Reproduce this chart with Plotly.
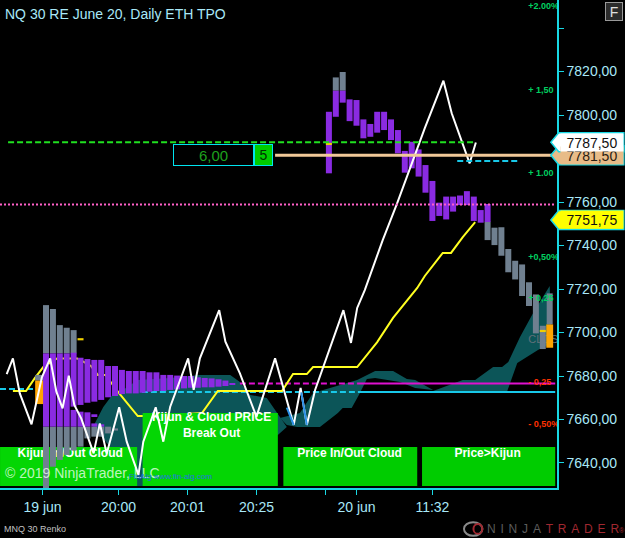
import plotly.graph_objects as go

# axis setup
x_range = [-6.67, 74.06]
y_range = [7628.5, 7852.9]
y_ticks = [7640, 7660, 7680, 7700, 7720, 7740, 7760, 7780, 7800, 7820, 7840]
y_labels = ["7640,00", "7660,00", "7680,00", "7700,00", "7720,00", "7740,00", "7760,00", "", "7800,00", "7820,00", ""]
x_ticks = [-0.5, 10.5, 20.5, 30.5, 40.5, 45, 56]
x_labels = ["19 jun", "20:00", "20:01", "20:25", "", "20 jun", "11:32"]

# left profile
tpo_gray_top_x = [0, 1, 2, 3, 4]
tpo_gray_top_hi = [7712.6, 7710.8, 7703.4, 7702.2, 7701.1]
tpo_gray_top_lo = [7690.4, 7690.4, 7690.4, 7690.4, 7690.4]
tpo_purple_x = list(range(28))
tpo_purple_hi = [7690.4, 7690.4, 7690.4, 7690.4, 7690.7, 7688.4, 7687.8, 7687.4, 7687.4, 7684.6, 7684.6, 7682.8, 7682.3, 7682.3,
                 7682.3, 7681.7, 7681.7, 7680.5, 7680.5, 7680.2, 7680.0, 7680.0, 7679.4, 7679.1, 7678.9, 7678.5, 7677.9, 7676.5]
tpo_purple_lo = [7656.7, 7656.7, 7656.7, 7656.7, 7665.9, 7666.7, 7667.7, 7668.2, 7669.0, 7670.2, 7670.8, 7671.7, 7672.0, 7672.0,
                 7672.3, 7672.8, 7673.1, 7673.1, 7673.6, 7673.9, 7674.3, 7674.6, 7674.6, 7674.8, 7674.8, 7675.1, 7675.4, 7675.9]
tpo_low_x = [4, 5, 6, 7, 7, 8]
tpo_low_hi = [7664.4, 7663.6, 7663.3, 7662.4, 7658.2, 7657.8]
tpo_low_lo = [7656.7, 7656.7, 7656.7, 7661.6, 7656.7, 7656.7]
tpo_gray_low_x = [0, 1, 2, 3, 4, 5, 6, 7, 8, 9, 10]
tpo_gray_low_hi = [7656.7, 7656.7, 7656.7, 7656.7, 7656.7, 7656.7, 7656.7, 7656.7, 7656.7, 7656.7, 7655.9]
tpo_gray_low_lo = [7628.5, 7638.3, 7641.4, 7643.7, 7645.7, 7647.5, 7651.3, 7652.1, 7652.1, 7653.6, 7654.9]

# renko bars
purple_x = list(range(41, 65))
purple_hi = [7801.5, 7811.2, 7811.2, 7807.2, 7806.9, 7798.0, 7795.9, 7801.5, 7801.5, 7798.0, 7793.1, 7783.5,
             7787.7, 7784.2, 7777.0, 7769.7, 7759.7, 7762.5, 7762.5, 7763.0, 7765.0, 7762.5, 7756.3, 7759.1]
purple_lo = [7773.2, 7799.2, 7805.7, 7797.2, 7795.1, 7789.3, 7790.0, 7791.9, 7793.1, 7788.5, 7782.4, 7773.5,
             7775.5, 7771.7, 7764.3, 7751.3, 7753.6, 7752.0, 7755.6, 7758.6, 7758.6, 7751.3, 7750.5, 7750.8]
gray_x = [42, 43, 64, 65, 66, 67, 68, 69, 70, 71, 72, 73]
gray_hi = [7817.3, 7819.8, 7751.0, 7748.2, 7748.4, 7738.4, 7733.0, 7731.3, 7723.1, 7717.5, 7703.1, 7718.0]
gray_lo = [7811.2, 7811.2, 7742.5, 7740.2, 7735.3, 7727.7, 7724.4, 7716.8, 7712.2, 7699.6, 7692.4, 7703.7]
open_x = [-1]
open_gray_hi = [7680.5]
open_gray_lo = [7677.9]
orange_x = [-1, 73]
orange_hi = [7677.9, 7703.7]
orange_lo = [7667.1, 7693.0]
tick_x = [5, 41, 72]
tick_hi = [7697.4, 7787.2, 7701.2]
tick_lo = [7696.4, 7786.2, 7700.2]

# ichimoku cloud outlines
cloud_a_x = [6.8, 8.3, 9.6, 10.7, 13.3, 18, 22.3, 26.7, 28.1, 29.6, 32, 34.3, 34.9, 33.6, 14.3, 13, 9.3]
cloud_a_y = [7656.6, 7665.7, 7671.3, 7672.6, 7678.2, 7679.1, 7680.5, 7680.5, 7677.2, 7671.3, 7669.9, 7659.8, 7656.6, 7652.9, 7629.4, 7629.4, 7647.4]
cloud_b_x = [33.9, 36.8, 38.7, 41.6, 45.1, 47.7, 50.3, 52.3, 53.5, 56.1, 53.5, 51.3, 47.7, 46.5, 45.5, 44.3, 43, 42.3, 39.7, 36.4, 34.9]
cloud_b_y = [7660.7, 7663, 7672.2, 7674.9, 7678.2, 7682.3, 7682.3, 7678.6, 7678.2, 7673.6, 7674.5, 7677.2, 7679.1, 7678.6, 7672.2, 7665.3, 7665.3, 7663, 7656.6, 7656.6, 7657.5]
cloud_c_x = [56.1, 60.4, 62.2, 64.8, 66.1, 67, 68.7, 70.6, 73, 73.3, 71.3, 68.3, 66.8]
cloud_c_y = [7673.1, 7678.2, 7678.2, 7684.1, 7684.1, 7686.4, 7697.9, 7709, 7721.4, 7695.2, 7692, 7686, 7672.6]

# lines
kijun_x = [-4.8, -2.9, -1.6, -0.4, 1.6, 4.5, 5.4, 6.5, 7.5, 8.6, 10.7, 13.3, 16.1, 22.6, 24.9, 34.2, 35.8, 37.8, 38.7, 45.1,
           48, 50.3, 53.8, 54.9, 57.5, 58.7, 60.4, 62.2]
kijun_y = [7673.1, 7673.1, 7679.1, 7684.1, 7688.1, 7688.1, 7686.6, 7684.6, 7680.5, 7680.5, 7671.7, 7661.6, 7661.6, 7663, 7673.1,
           7673.1, 7680.9, 7680.9, 7684.1, 7684.1, 7695.6, 7706.7, 7720.5, 7726, 7736.6, 7736.6, 7743.9, 7750.8]
lag_x = [-5.7, -4.8, -3.8, -2.1, -0.6, 0.6, 1.5, 2.4, 3.3, 4.1, 5.1, 6.9, 7.8, 8.8, 10.6, 11.7, 13.4, 14.1, 15.9, 17, 18, 20.6,
         21.4, 22.3, 25.1, 26, 28.1, 30.5, 33.2, 35.9, 36.9, 37.8, 39, 43.1, 44.2, 45.1, 46.2, 48.8, 50.9, 54.9, 57.6, 58.8, 61.4, 62.3]
lag_y = [7680.9, 7688.1, 7672, 7657.8, 7679.4, 7688.1, 7672.8, 7665.1, 7680.1, 7666.7, 7660.5, 7644.4, 7658.2, 7644.4, 7665.6,
         7649.8, 7634.5, 7649.8, 7665.6, 7649.8, 7665.9, 7688.1, 7673.6, 7688.1, 7710.3, 7695.8, 7681.2, 7661.3, 7688.1, 7657.5,
         7674.5, 7657.5, 7673.6, 7710.3, 7695.2, 7711.3, 7719.5, 7742.5, 7759.5, 7794, 7815.8, 7800.8, 7777.8, 7787.4]
lag_blue_x = [34.9, 35.9, None, 37.0, 37.8]
lag_blue_y = [7665.5, 7657.5, None, 7672.5, 7657.5]

# price levels
high_level = 7787.5
entry_level = 7781.5
last_level = 7751.75
mid_level = 7758.9
magenta_level = 7676.5
cyan_level = 7672.6
cyan_left_level = 7674.0
short_level = 7778.9

# green signal boxes
box_x = [3.27, 23.8, 44.1, 64.15]
box_w = [19.87, 19.6, 19.4, 19.3]
box_lo = [7629.4, 7629.4, 7629.4, 7629.4]
box_hi = [7647.4, 7663.0, 7647.4, 7647.4]
box_colors = ["#04d604", "#04d604", "#00cc00", "#00cc00"]
box_label_x = [3.5, 24, 44, 64]
box_label_y = [7644.1, 7657, 7644.1, 7644.1]
box_labels = ["Kijun In/Out Cloud", "Kijun &amp; Cloud PRICE<br>Break Out", "Price In/Out Cloud", "Price&gt;Kijun"]

# percent labels beside the axis
pct_labels = ["+2.00%", "+ 1,50", "+ 1.00", "+0,50%", "+ 0,25", "- 0,25", "- 0,50%"]
pct_y = [7849.7, 7811, 7772.9, 7734.3, 7715.4, 7676.8, 7657.5]
pct_colors = ["#00d060", "#00d060", "#00d060", "#00d060", "#00d060", "#ff3000", "#ff3000"]

PURPLE = "#8a2be2"
GRAY = "#708090"
CYAN = "#18d8e4"
TEXT = "#a8e8f8"
FONT = "Liberation Sans"
BAR_W = 0.87


def bars(x, lo, hi, color, xa, ya, width=BAR_W):
    return go.Bar(x=x, base=lo, y=[h - l for h, l in zip(hi, lo)], width=width, marker=dict(color=color, line_width=0),
                  xaxis=xa, yaxis=ya, hoverinfo="skip", showlegend=False)


def line(x, y, color, width, xa, ya, dash="solid", mode="lines"):
    return go.Scatter(x=x, y=y, mode=mode, line=dict(color=color, width=width, dash=dash), xaxis=xa, yaxis=ya,
                      hoverinfo="skip", showlegend=False)


def cloud(x, y):
    return go.Scatter(x=x, y=y, mode="lines", fill="toself", fillcolor="#0c5558", line=dict(width=0), hoverinfo="skip",
                      showlegend=False)


fig = go.Figure()

# bottom layer: cloud, kijun, horizontal lines behind the bars
fig.add_trace(cloud(cloud_a_x, cloud_a_y))
fig.add_trace(cloud(cloud_b_x, cloud_b_y))
fig.add_trace(cloud(cloud_c_x, cloud_c_y))
fig.add_trace(line([-6.67, -1.2], [cyan_left_level] * 2, "#18c8e8", 2, "x", "y", dash="6px,3px"))
fig.add_trace(line([13.9, 45.2], [cyan_level] * 2, "#18c8e8", 2, "x", "y", dash="6px,3px"))
fig.add_trace(line([45.2, 73.8], [cyan_level] * 2, "#18c8e8", 2, "x", "y"))
fig.add_trace(line([28.1, 45.2], [magenta_level] * 2, "#e010d0", 2, "x", "y", dash="6px,3px"))
fig.add_trace(line([45.2, 73.8], [magenta_level] * 2, "#e010d0", 2, "x", "y"))
fig.add_trace(line(kijun_x, kijun_y, "#ffff20", 2, "x", "y"))
fig.add_trace(go.Scatter(x=[69.9], y=[7696.3], mode="text", text=["CLOSE"], textposition="middle right",
                         textfont=dict(family=FONT, size=11, color="#607078"), hoverinfo="skip", showlegend=False))

# middle layer: green boxes and their captions
fig.add_trace(go.Bar(x=box_x, base=box_lo, y=[h - l for h, l in zip(box_hi, box_lo)], width=box_w,
                     marker=dict(color=box_colors, line_width=0), xaxis="x2", yaxis="y2", hoverinfo="skip", showlegend=False))
fig.add_trace(go.Scatter(x=box_label_x, y=box_label_y, mode="text", text=box_labels, textposition="middle center",
                         textfont=dict(family=FONT, size=12, color="white", weight="bold"), xaxis="x2", yaxis="y2",
                         hoverinfo="skip", showlegend=False))

# top layer: profile, renko bars, lagging line
fig.add_trace(bars(tpo_gray_top_x, tpo_gray_top_lo, tpo_gray_top_hi, GRAY, "x3", "y3"))
fig.add_trace(bars(tpo_gray_low_x, tpo_gray_low_lo, tpo_gray_low_hi, GRAY, "x3", "y3"))
fig.add_trace(bars(tpo_purple_x, tpo_purple_lo, tpo_purple_hi, PURPLE, "x3", "y3"))
fig.add_trace(bars(tpo_low_x, tpo_low_lo, tpo_low_hi, PURPLE, "x3", "y3"))
fig.add_trace(bars(gray_x, gray_lo, gray_hi, GRAY, "x3", "y3"))
fig.add_trace(bars(open_x, open_gray_lo, open_gray_hi, GRAY, "x3", "y3", width=1.15))
fig.add_trace(bars(purple_x, purple_lo, purple_hi, PURPLE, "x3", "y3"))
fig.add_trace(bars(orange_x, orange_lo, orange_hi, "#ffa500", "x3", "y3", width=[1.15, 1.0]))
fig.add_trace(bars(tick_x, tick_lo, tick_hi, "#f0d000", "x3", "y3"))
fig.add_trace(line(lag_x, lag_y, "white", 2, "x3", "y3"))
fig.add_trace(line(lag_blue_x, lag_blue_y, "#2a90e8", 2, "x3", "y3"))
fig.add_trace(line([-5.5, 62.3], [high_level] * 2, "#20e020", 2, "x3", "y3", dash="6px,3px"))
fig.add_trace(line([33.2, 74], [entry_level] * 2, "#f0c898", 3, "x3", "y3"))
fig.add_trace(line([59.6, 68.3], [short_level] * 2, "#18c8e8", 2, "x3", "y3", dash="6px,3px"))
fig.add_trace(line([-6.67, 73.8], [mid_level] * 2, "#ff60c8", 2, "x3", "y3", dash="2px,2px"))
fig.add_trace(go.Scatter(x=[69.9] * len(pct_y), y=pct_y, mode="text", text=pct_labels, textposition="middle right",
                         textfont=dict(family=FONT, size=9, color=pct_colors, weight="bold"), xaxis="x3", yaxis="y3",
                         hoverinfo="skip", showlegend=False))

overlay_x = dict(overlaying="x", range=x_range, visible=False, fixedrange=True)
overlay_y = dict(overlaying="y", range=y_range, visible=False, fixedrange=True)

shapes = []
annos = []
# price tags on the axis, lowest priority first
for level, fill, txt_color in [(last_level, "#ffff00", "#101010"), (entry_level, "#e8bc88", "#2a2010"), (high_level, "#ffffff", "#101010")]:
    shapes.append(dict(type="path", xref="paper", yref="y", layer="above", fillcolor=fill, line=dict(color=CYAN, width=1.5),
                       path=f"M 0.989 {level} L 1.003 {level + 4.4} L 1.12 {level + 4.4} L 1.12 {level - 4.4} L 1.003 {level - 4.4} Z"))
    annos.append(dict(xref="paper", yref="y", x=1.062, y=level, text=f"{level:.2f}".replace(".", ","), showarrow=False,
                      width=62, height=17, bgcolor=fill, borderpad=0, font=dict(family=FONT, size=14, color=txt_color),
                      xanchor="center", yanchor="middle", align="center", valign="middle"))

logo_gap = "\u2009\u2009"
logo_ninja = logo_gap.join("NINJA") + logo_gap
logo_trader = logo_gap.join("TRADER")

annos += [
    dict(xref="paper", yref="paper", x=0, xshift=3, y=1, yshift=-14, text="NQ 30 RE June 20, Daily ETH TPO", showarrow=False,
         xanchor="left", yanchor="middle", font=dict(family=FONT, size=14, color=TEXT)),
    dict(xref="paper", yref="paper", x=1.1032, y=1, yshift=-11, text="F", showarrow=False, width=16, height=17, bgcolor="#2c2c2c",
         bordercolor="#9a9a9a", borderwidth=1, borderpad=0, xanchor="center", yanchor="middle",
         font=dict(family=FONT, size=14, color="#e0e0e0")),
    dict(xref="x", yref="y", x=24.3, y=7781.6, text="6,00", showarrow=False, width=79, height=20, bgcolor="#000000",
         bordercolor="#00e5f0", borderwidth=1, borderpad=0, font=dict(family=FONT, size=15, color="#1ea01e")),
    dict(xref="x", yref="y", x=31.5, y=7781.6, text="5", showarrow=False, width=17, height=20, bgcolor="#00cc00",
         bordercolor="#00e5f0", borderwidth=1, borderpad=0, font=dict(family=FONT, size=14, color="#003000")),
    dict(xref="x", yref="y", x=-6.3, y=7635.5, text="© 2019 NinjaTrader, LLC", showarrow=False, xanchor="left",
         font=dict(family=FONT, size=14, color="rgba(235,255,235,0.8)")),
    dict(xref="x", yref="y", x=11.7, y=7633.6, text="FinAlg www.fin-alg.com", showarrow=False, xanchor="left", yanchor="middle",
         font=dict(family=FONT, size=8, color="#2070e0")),
    dict(xref="paper", yref="paper", x=0.004, y=-0.083, text="MNQ 30 Renko", showarrow=False, xanchor="left", yanchor="middle",
         font=dict(family=FONT, size=9, color="#c0c0c0")),
    dict(xref="paper", yref="paper", x=0.87, y=-0.083, showarrow=False, xanchor="left", yanchor="middle",
         text=f"<span style='color:#5c5c5c'>{logo_ninja}</span><span style='color:#a02830'>{logo_trader}</span><span style='color:#a02830;font-size:7px'>®</span>",
         font=dict(family=FONT, size=12)),
]

# logo ring
shapes.append(dict(type="circle", xref="paper", yref="paper", x0=0.833, x1=0.866, y0=-0.098, y1=-0.07, line=dict(color="#8a8a8a", width=2)))
shapes.append(dict(type="circle", xref="paper", yref="paper", x0=0.85, x1=0.866, y0=-0.094, y1=-0.074, line=dict(color="#a02830", width=2)))

fig.update_layout(
    width=625, height=538, margin=dict(l=0, r=68, t=0, b=50),
    paper_bgcolor="black", plot_bgcolor="black", barmode="overlay", showlegend=False,
    font=dict(family=FONT, size=14, color=TEXT),
    xaxis=dict(range=x_range, tickmode="array", tickvals=x_ticks, ticktext=x_labels, showgrid=False, zeroline=False, showline=True,
               linecolor=CYAN, linewidth=1.5, ticks="outside", ticklen=5, tickcolor=CYAN, tickwidth=1,
               tickfont=dict(family=FONT, size=14, color=TEXT), fixedrange=True),
    yaxis=dict(range=y_range, side="right", tickmode="array", tickvals=y_ticks, ticktext=y_labels, showgrid=False, zeroline=False,
               showline=True, linecolor=CYAN, linewidth=1.5, ticks="outside", ticklen=5, tickcolor=CYAN, tickwidth=1,
               tickfont=dict(family=FONT, size=14, color=TEXT), fixedrange=True),
    xaxis2=overlay_x, yaxis2=overlay_y, xaxis3=overlay_x, yaxis3=overlay_y,
    shapes=shapes, annotations=annos,
)

fig.write_html("out.html", config=dict(displayModeBar=False), post_script="document.body.style.margin='0';document.body.style.overflow='hidden';")
